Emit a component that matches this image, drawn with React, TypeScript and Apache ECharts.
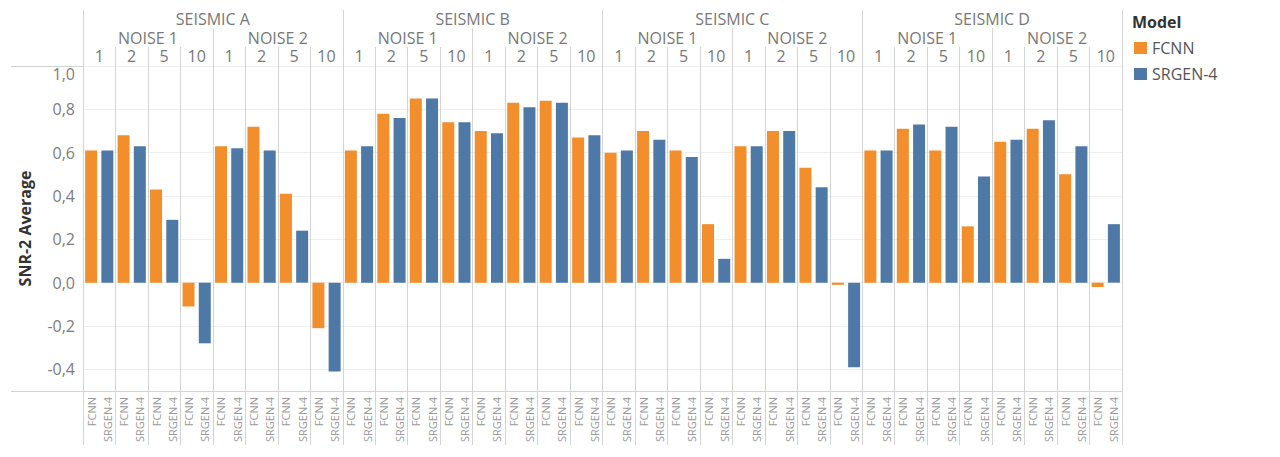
import React, { useEffect, useRef } from "react";
import * as echarts from "echarts";

const seismicGroups = ["SEISMIC A", "SEISMIC B", "SEISMIC C", "SEISMIC D"];
const noiseGroups = ["NOISE 1", "NOISE 2"];
const noiseLevels = ["1", "2", "5", "10"];
const models = ["FCNN", "SRGEN-4"];

// one value per (seismic, noise, level), in reading order
const fcnnValues = [
  0.61, 0.68, 0.43, -0.11, 0.63, 0.72, 0.41, -0.21,
  0.61, 0.78, 0.85, 0.74, 0.70, 0.83, 0.84, 0.67,
  0.60, 0.70, 0.61, 0.27, 0.63, 0.70, 0.53, -0.01,
  0.61, 0.71, 0.61, 0.26, 0.65, 0.71, 0.50, -0.02,
];
const srgenValues = [
  0.61, 0.63, 0.29, -0.28, 0.62, 0.61, 0.24, -0.41,
  0.63, 0.76, 0.85, 0.74, 0.69, 0.81, 0.83, 0.68,
  0.61, 0.66, 0.58, 0.11, 0.63, 0.70, 0.44, -0.39,
  0.61, 0.73, 0.72, 0.49, 0.66, 0.75, 0.63, 0.27,
];

const FONT = "'Open Sans', 'Noto Sans', sans-serif";
const ORANGE = "#F28E2B";
const BLUE = "#4E79A7";
const LINE = "#d3d3d3";
const HEAD = "#787878";

export default function App() {
  const ref = useRef<HTMLDivElement>(null);

  useEffect(() => {
    document.body.style.margin = "0";
    if (!ref.current) return;
    const chart = echarts.init(ref.current, undefined, { renderer: "svg" });

    const levelCats: string[] = [];
    const noiseCats: string[] = [];
    seismicGroups.forEach(() => {
      noiseGroups.forEach((n) => {
        noiseCats.push(n);
        noiseLevels.forEach((l) => levelCats.push(l));
      });
    });
    const modelCats: string[] = [];
    const fcnnData: (number | string)[] = [];
    const srgenData: (number | string)[] = [];
    levelCats.forEach((_, i) => {
      modelCats.push(models[0], models[1]);
      fcnnData.push(fcnnValues[i], "-");
      srgenData.push("-", srgenValues[i]);
    });

    const left = 83;
    const right = 1122;
    const top = 66;
    const bottom = 391;

    const headLabel = (size: number, margin: number) => ({
      interval: 0,
      fontSize: size,
      lineHeight: size + 1,
      color: HEAD,
      margin,
      fontFamily: FONT,
    });

    const option: any = {
      animation: false,
      textStyle: { fontFamily: FONT },
      grid: { left, right: 1280 - right, top, bottom: 457 - bottom, containLabel: false },
      legend: {
        data: models,
        orient: "vertical",
        left: 1134,
        top: 40,
        padding: 0,
        itemGap: 10,
        itemWidth: 13,
        itemHeight: 12,
        icon: "rect",
        selectedMode: false,
        textStyle: { fontSize: 16, color: "#555", fontFamily: FONT },
      },
      xAxis: [
        {
          type: "category",
          data: modelCats,
          position: "bottom",
          axisLine: { show: false },
          axisTick: { show: false },
          splitLine: { show: false },
          axisLabel: {
            interval: 0,
            rotate: 90,
            fontSize: 11,
            color: "#9a9a9a",
            margin: 6,
            fontFamily: FONT,
          },
        },
        {
          type: "category",
          data: levelCats,
          position: "bottom",
          axisLine: { show: false },
          axisLabel: { show: false },
          axisTick: { show: true, length: 54, lineStyle: { color: LINE } },
          splitLine: { show: true, lineStyle: { color: LINE, width: 1 } },
        },
        {
          type: "category",
          data: levelCats,
          position: "top",
          axisLine: { show: false },
          axisTick: { show: true, length: 19, lineStyle: { color: LINE } },
          axisLabel: headLabel(16, 2),
        },
        {
          type: "category",
          data: noiseCats,
          position: "top",
          offset: 19,
          axisLine: { show: false },
          axisTick: { show: true, length: 19, lineStyle: { color: LINE } },
          axisLabel: headLabel(16, 1),
        },
        {
          type: "category",
          data: seismicGroups,
          position: "top",
          offset: 38,
          axisLine: { show: false },
          axisTick: { show: true, length: 18, lineStyle: { color: LINE } },
          axisLabel: headLabel(16, 1),
        },
      ],
      yAxis: {
        type: "value",
        min: -0.5,
        max: 1.0,
        interval: 0.1,
        name: "SNR-2 Average",
        nameLocation: "middle",
        nameRotate: 90,
        nameGap: 50,
        nameTextStyle: { fontSize: 16, fontWeight: "bold", color: "#333", fontFamily: FONT },
        axisLine: { show: true, lineStyle: { color: LINE } },
        axisTick: { show: false },
        axisLabel: {
          fontSize: 16,
          color: "#7d7d7d",
          margin: 8,
          fontFamily: FONT,
          verticalAlignMaxLabel: "top",
          formatter: (v: number) => {
            const k = Math.round(v * 10);
            if (k % 2 !== 0) return "";
            return (k / 10).toFixed(1).replace(".", ",");
          },
        },
        splitLine: {
          show: true,
          lineStyle: { color: ["rgba(0,0,0,0)", "#efefef"], width: 1 },
        },
      },
      series: [
        {
          name: models[0],
          type: "bar",
          xAxisIndex: 0,
          data: fcnnData,
          barWidth: 12,
          barGap: "-100%",
          itemStyle: { color: ORANGE },
        },
        {
          name: models[1],
          type: "bar",
          xAxisIndex: 0,
          data: srgenData,
          barWidth: 12,
          barGap: "-100%",
          itemStyle: { color: BLUE },
        },
      ],
      graphic: [
        {
          type: "line",
          shape: { x1: 11, y1: top + 0.5, x2: right, y2: top + 0.5 },
          style: { stroke: LINE, lineWidth: 1 },
        },
        {
          type: "line",
          shape: { x1: 11, y1: bottom + 0.5, x2: right, y2: bottom + 0.5 },
          style: { stroke: LINE, lineWidth: 1 },
        },
        {
          type: "text",
          left: 1132,
          top: 14,
          style: { text: "Model", fontSize: 16, fontWeight: "bold", fill: "#333", fontFamily: FONT },
        },
      ],
    };

    chart.setOption(option);
    return () => chart.dispose();
  }, []);

  return <div ref={ref} style={{ width: 1280, height: 457 }} />;
}
